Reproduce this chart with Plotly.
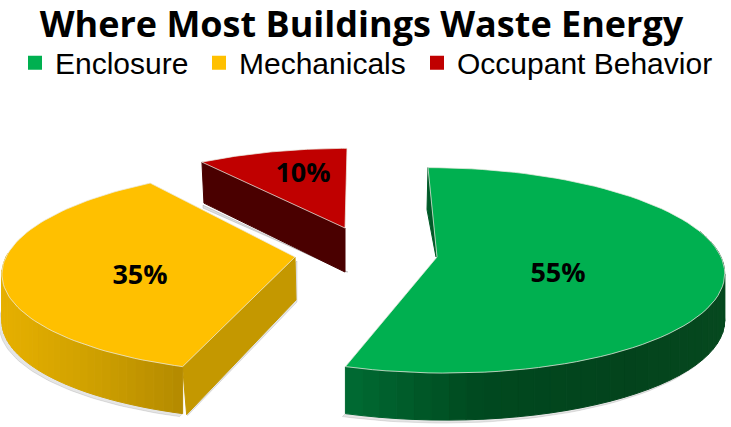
import math
import plotly.graph_objects as go

TITLE = "Where Most Buildings Waste Energy"
categories = ["Enclosure", "Mechanicals", "Occupant Behavior"]
values = [55, 35, 10]
top_colors = ["#00B050", "#FFC000", "#C00000"]
# drawing style of each exploded slice (pixel geometry of the 3D look, not data)
apex = [(437, 257), (295, 257), (345, 228)]
radius = [(284, 101), (289, 101), (272, 90)]
shear = [-9, 11, 2]
depth = [47, 47, 43]
persp = 0.13
wall_stops = [
    [(0, "#006B33"), (0.35, "#00491F"), (0.75, "#03431C"), (1, "#06491F")],
    [(0, "#E6B000"), (0.5, "#CFA000"), (1, "#B48A00")],
    [(0, "#4A0000"), (1, "#4A0000")],
]
radial_wall = ["#005A28", "#C49800", "#4A0000"]
label_pos = [(558, 275), (140, 277), (303, 175)]
legend_x = [15, 199, 417]


def proj(i, th):
    u, v = math.sin(th), math.cos(th)
    s = 1 / (1 + persp * v)
    return (apex[i][0] + radius[i][0] * u * s + shear[i] * v,
            apex[i][1] - radius[i][1] * v * s)


def hexmix(stops, t):
    for (a, ca), (b, cb) in zip(stops, stops[1:]):
        if t <= b:
            f = (t - a) / (b - a) if b > a else 0
            rgb = [round(int(ca[j:j + 2], 16) * (1 - f) + int(cb[j:j + 2], 16) * f) for j in (1, 3, 5)]
            return "rgb(%d,%d,%d)" % tuple(rgb)
    return stops[-1][1]


fig = go.Figure()


def poly(pts, color, line=None, lw=1):
    fig.add_trace(go.Scatter(x=[p[0] for p in pts] + [pts[0][0]], y=[p[1] for p in pts] + [pts[0][1]],
                             mode="lines", fill="toself", fillcolor=color,
                             line=dict(color=line or color, width=lw), showlegend=False, hoverinfo="skip"))


# slice angular spans come from the values
spans = []
acc = 0
total = sum(values)
for v in values:
    spans.append((acc / total * 2 * math.pi, (acc + v) / total * 2 * math.pi))
    acc += v


def arc(i, a, b, n=80):
    return [proj(i, a + (b - a) * k / n) for k in range(n + 1)]


# which part of each rim faces the viewer
rim = [(spans[0][0] + math.radians(75), spans[0][1]),
       (spans[1][0], math.radians(272)),
       None]

for i in range(3):
    s0, s1 = spans[i]
    d = depth[i]
    A = apex[i]
    # soft shadow
    if rim[i]:
        pts = arc(i, *rim[i], 60)
        poly([(x, y + d) for x, y in pts] + [(x - 3, y + d + 3) for x, y in reversed(pts)], "rgba(0,0,0,0.10)")
    # radial walls
    if i == 0:
        p = proj(0, s0)
        poly([p, A, (A[0] - 1, A[1]), (p[0] - 1, p[1] + 42)], radial_wall[0])
    if i == 1:
        p = proj(1, s0)
        poly([(p[0] + 2, p[1] + 4), (A[0] + 2, A[1] + 4), (A[0] + 2, A[1] + d - 2), (p[0] + 5, p[1] + d + 2)], "rgba(0,0,0,0.10)")
        poly([p, A, (A[0] + 1, A[1] + d - 4), (p[0] + 4, p[1] + d + 1)], radial_wall[1])
    if i == 2:
        p = proj(2, s0)
        poly([(p[0] + 1, p[1] + d), (A[0], A[1] + d + 1), (A[0] + 3, A[1] + d + 1), (p[0] + 1, p[1] + d + 3)], "rgba(0,0,0,0.13)")
        poly([p, A, (A[0], A[1] + d + 1), (p[0] + 2, p[1] + d - 2)], radial_wall[2])
    # curved rim in gradient strips
    if rim[i]:
        a, b = rim[i]
        n = 40
        xs = [proj(i, a + (b - a) * k / n)[0] for k in range(n + 1)]
        xl, xr = min(xs), max(xs)
        for k in range(n):
            t0 = a + (b - a) * k / n
            t1 = a + (b - a) * (k + 1) / n
            p0, p1 = proj(i, t0), proj(i, t1)
            tt = ((p0[0] + p1[0]) / 2 - xl) / (xr - xl)
            poly([p0, p1, (p1[0], p1[1] + d), (p0[0], p0[1] + d)], hexmix(wall_stops[i], tt))
    # top face
    poly([A] + arc(i, s0, s1), top_colors[i], line="rgba(235,235,225,0.75)", lw=1)

# percentage labels
fig.add_trace(go.Scatter(x=[p[0] for p in label_pos], y=[p[1] for p in label_pos], mode="text",
                         text=[f"{v}%" for v in values], showlegend=False, hoverinfo="skip",
                         textfont=dict(family="Open Sans", size=27, color="#000000", weight="bold")))

# legend entries, one legend box per category
leg_ids = ["legend", "legend2", "legend3"]
for name, c, lid in zip(categories, top_colors, leg_ids):
    fig.add_trace(go.Scatter(x=[None], y=[None], mode="markers", name=name, legend=lid,
                             marker=dict(symbol="square", size=14, color=c)))

leg_common = dict(orientation="h", y=0.853, xanchor="left", yanchor="middle",
                  font=dict(family="Liberation Sans", size=30, color="#000000"),
                  itemwidth=30, bgcolor="rgba(0,0,0,0)")

fig.update_layout(
    width=731, height=427, margin=dict(l=0, r=0, t=0, b=0),
    paper_bgcolor="white", plot_bgcolor="white",
    title=dict(text=TITLE, x=0.4945, xanchor="center", y=0.9425, yanchor="middle",
               font=dict(family="Open Sans", size=36, color="#000000", weight="bold")),
    xaxis=dict(range=[0, 731], visible=False, fixedrange=True),
    yaxis=dict(range=[427, 0], visible=False, fixedrange=True),
    legend=dict(x=legend_x[0] / 731, **leg_common),
    legend2=dict(x=legend_x[1] / 731, **leg_common),
    legend3=dict(x=legend_x[2] / 731, **leg_common),
)
fig.write_html("out.html", post_script="document.body.style.margin='0';",
               config={"displayModeBar": False})
